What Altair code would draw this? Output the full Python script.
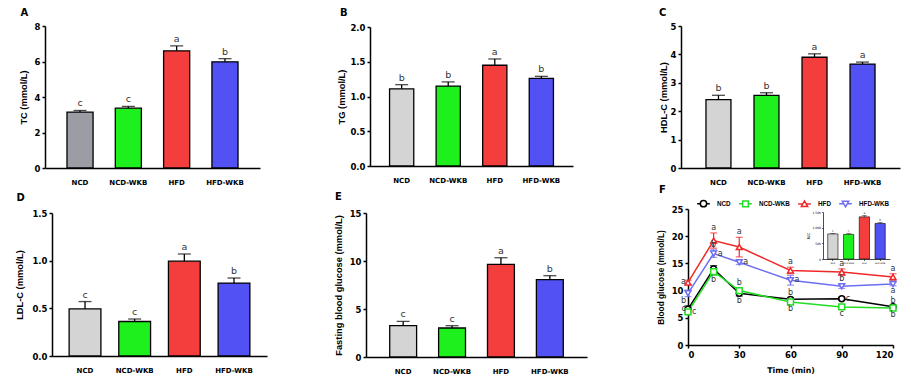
import altair as alt
import pandas as pd

groups = ["NCD", "NCD-WKB", "HFD", "HFD-WKB"]
bar_colors_a = ["#9c9ca4", "#1ef01e", "#f43d3d", "#5252f4"]
bar_colors = ["#d4d4d4", "#1ef01e", "#f43d3d", "#5252f4"]
panel_letters = ["A", "B", "C", "D", "E", "F"]

tc_mean = [3.15, 3.37, 6.60, 5.98]
tc_err = [0.09, 0.10, 0.28, 0.18]
tc_sig = ["c", "c", "a", "b"]

tg_mean = [1.11, 1.15, 1.45, 1.26]
tg_err = [0.06, 0.06, 0.09, 0.03]
tg_sig = ["b", "b", "a", "b"]

hdl_mean = [2.41, 2.56, 3.90, 3.66]
hdl_err = [0.15, 0.09, 0.12, 0.07]
hdl_sig = ["b", "b", "a", "a"]

ldl_mean = [0.494, 0.362, 0.995, 0.765]
ldl_err = [0.077, 0.026, 0.075, 0.053]
ldl_sig = ["c", "c", "a", "b"]

fbg_mean = [3.26, 3.02, 9.65, 8.05]
fbg_err = [0.45, 0.24, 0.69, 0.42]
fbg_sig = ["c", "c", "a", "b"]

# OGTT
times = [0, 15, 30, 60, 90, 120]
series = ["NCD", "NCD-WKB", "HFD", "HFD-WKB"]
line_colors = ["#000000", "#22dd22", "#f02828", "#6e6ef2"]
marker_shapes = ["circle", "square", "triangle-up", "triangle-down"]
bg_ncd = [6.6, 14.0, 9.5, 8.4, 8.5, 7.05]
bg_ncd_wkb = [6.1, 13.5, 10.0, 7.9, 7.0, 6.8]
bg_hfd = [11.5, 19.2, 18.0, 13.7, 13.4, 12.5]
bg_hfd_wkb = [9.5, 16.8, 15.2, 11.9, 10.8, 11.2]
err_ncd = [0.6, 0.6, 0.5, 0.3, 0.3, 0.2]
err_ncd_wkb = [0.5, 0.7, 0.4, 0.4, 0.3, 0.3]
err_hfd = [0.4, 1.4, 1.8, 0.6, 0.6, 0.6]
err_hfd_wkb = [0.6, 0.7, 0.4, 0.9, 0.4, 0.3]

letter_time = [0, 0, 0, 0, 15, 15, 15, 15, 30, 30, 30, 30,
               60, 60, 60, 60, 90, 90, 90, 90, 120, 120, 120, 120]
letter_text = ["a", "b", "c", "c", "a", "b", "a", "b", "a", "a", "b", "b",
               "a", "a", "b", "b", "a", "b", "c", "c", "a", "a", "b", "b"]
letter_series = ["HFD", "HFD-WKB", "NCD", "NCD-WKB",
                 "HFD", "HFD-WKB", "HFD-WKB", "NCD-WKB",
                 "HFD", "HFD-WKB", "NCD-WKB", "NCD",
                 "HFD", "HFD-WKB", "NCD", "NCD-WKB",
                 "HFD", "HFD-WKB", "NCD", "NCD-WKB",
                 "HFD", "HFD-WKB", "NCD", "NCD-WKB"]
letter_pos = ["left", "lowleft", "left", "right",
              "above", "above", "right", "below",
              "above", "right", "above", "below",
              "above", "right", "above", "below",
              "above", "above", "right", "below",
              "above", "below", "above", "below"]

auc_mean = [800, 785, 1345, 1135]
auc_err = [20, 25, 50, 30]
auc_sig = ["c", "c", "a", "b"]

LBL = "DejaVu Sans"
TTL = "Liberation Sans"

# ---- layout (pixels inside the chart) ----
W, H = 895, 370
M = 8  # page margin: reference pixel -> chart pixel


def bar_panel(letter, ytitle, mean, err, sig, ymax, ticks, fmt, box, colors,
              pin, pout, tpad, letter_xy):
    L, R, T, B = [v - M for v in box]
    df = pd.DataFrame({"group": groups, "mean": mean, "err": err, "sig": sig})
    df["top"] = df["mean"] + df["err"]
    xs = alt.Scale(range=[L, R], paddingInner=pin, paddingOuter=pout)
    ys = alt.Scale(domain=[0, ymax], range=[B, T], nice=False, padding=0)
    x = alt.X("group:N", sort=groups, title=None, scale=xs,
              axis=alt.Axis(orient="bottom", offset=-(H - B), labelAngle=0,
                            ticks=False, labelFontSize=7, labelPadding=10))
    xn = alt.X("group:N", sort=groups, title=None, scale=xs)
    base = alt.Chart(df)
    bars = base.mark_bar(stroke="black", strokeWidth=1.3).encode(
        x=x,
        y=alt.Y("mean:Q", scale=ys, title=ytitle,
                axis=alt.Axis(orient="left", offset=-L, values=ticks,
                              tickCount=len(ticks), format=fmt,
                              tickSize=3, labelPadding=2, titlePadding=tpad,
                              labelOverlap=False,
                              labelFontSize=8.5, titleFontSize=9.3)),
        fill=alt.Fill("group:N", scale=alt.Scale(domain=groups, range=colors),
                      legend=None),
    )
    yn = lambda f: alt.Y(f, scale=ys, title=ytitle)
    rule = base.mark_rule(color="black", strokeWidth=1.3).encode(
        x=xn, y=yn("mean:Q"), y2="top:Q")
    cap = base.mark_tick(color="black", thickness=1.3, size=13).encode(
        x=xn, y=yn("top:Q"))
    txt = base.mark_text(baseline="bottom", dy=-2, font=LBL, fontSize=9.5,
                         color="#333333").encode(x=xn, y=yn("top:Q"), text="sig:N")
    # panel letter, anchored at (first category, top of the axis)
    n = len(groups)
    step = (R - L) / (n - pin + 2 * pout)
    c0 = L + step * pout + step * (1 - pin) / 2
    lx, ly = letter_xy
    lab = alt.Chart(pd.DataFrame({"group": [groups[0]], "v": [ymax], "t": [letter]})) \
        .mark_text(font=LBL, fontSize=10, fontWeight="bold", align="left",
                   baseline="alphabetic", color="black",
                   dx=(lx - M) - c0, dy=(ly - M) - T) \
        .encode(x=xn, y=yn("v:Q"), text="t:N")
    return alt.layer(bars, rule, cap, txt, lab)


pA = bar_panel("A", "TC (mmol/L)", tc_mean, tc_err, tc_sig, 8, [0, 2, 4, 6, 8],
               "d", (45, 260, 26, 168), bar_colors_a, 0.46, 0.455, 6, (20.5, 16))
pB = bar_panel("B", "TG (mmol/L)", tg_mean, tg_err, tg_sig, 2,
               [0, 0.5, 1.0, 1.5, 2.0], ".1f", (370, 573, 27, 166), bar_colors,
               0.48, 0.42, 3, (340, 16))
pC = bar_panel("C", "HDL-C (mmol/L)", hdl_mean, hdl_err, hdl_sig, 5,
               [0, 1, 2, 3, 4, 5], "d", (681, 900, 26, 168), bar_colors,
               0.48, 0.52, 2, (659, 16))
pD = bar_panel("D", "LDL-C (mmol/L)", ldl_mean, ldl_err, ldl_sig, 1.5,
               [0, 0.5, 1.0, 1.5], ".1f", (52, 267, 213, 356), bar_colors,
               0.36, 0.345, 7, (16.5, 200.5))
pE = bar_panel("E", "Fasting blood glucose (mmol/L)", fbg_mean, fbg_err, fbg_sig,
               15, [0, 5, 10, 15], "d", (366, 587, 213, 357), bar_colors,
               0.45, 0.485, 6, (335, 200))

# ---- panel F ----
FL, FR, FT, FB = 688 - M, 893 - M, 209 - M, 345 - M
vals = [bg_ncd, bg_ncd_wkb, bg_hfd, bg_hfd_wkb]
errs = [err_ncd, err_ncd_wkb, err_hfd, err_hfd_wkb]
rows = []
for s, v, e in zip(series, vals, errs):
    for t, vv, ee in zip(times, v, e):
        rows.append({"series": s, "time": t, "value": vv, "err": ee,
                     "lo": vv - ee, "hi": vv + ee})
ogtt = pd.DataFrame(rows)

FX_T, FY_T = "Time (min)", "Blood glucose (mmol/L)"
xs = alt.Scale(domain=[0, 120], range=[FL, FR], nice=False, padding=0, zero=False)
ysF = alt.Scale(domain=[0, 25], range=[FB, FT], nice=False, padding=0)
X = alt.X("time:Q", scale=xs, title=FX_T,
          axis=alt.Axis(orient="bottom", offset=-(H - FB),
                        values=[0, 30, 60, 90, 120], tickCount=5, tickSize=3,
                        labelFontSize=8.5, titleFont=LBL, titleFontSize=7.8,
                        titlePadding=8, labelPadding=2, labelOverlap=False))
Y = alt.Y("value:Q", scale=ysF, title=FY_T,
          axis=alt.Axis(orient="left", offset=-FL,
                        values=[0, 5, 10, 15, 20, 25], tickCount=6, tickSize=3,
                        labelFontSize=8.5, titleFontSize=8.3, titlePadding=6,
                        labelPadding=2, labelOverlap=False))
XN = alt.X("time:Q", scale=xs, title=FX_T)
YN = lambda f: alt.Y(f, scale=ysF, title=FY_T)

layers = [alt.Chart(ogtt).mark_line(color="black", strokeWidth=1.5, opacity=0)
          .encode(x=X, y=Y)]
for s, c in zip(series, line_colors):
    b = alt.Chart(ogtt).transform_filter(alt.datum.series == s)
    layers.append(b.mark_line(color=c, strokeWidth=1.5).encode(x=XN, y=YN("value:Q")))
    layers.append(b.mark_rule(color=c, strokeWidth=1.2).encode(
        x=XN, y=YN("lo:Q"), y2="hi:Q"))
    layers.append(b.mark_tick(color=c, thickness=1.2, size=7,
                              orient="horizontal").encode(x=XN, y=YN("hi:Q")))
    layers.append(b.mark_tick(color=c, thickness=1.2, size=7,
                              orient="horizontal").encode(x=XN, y=YN("lo:Q")))
for s, c, shp in zip(series, line_colors, marker_shapes):
    b = alt.Chart(ogtt).transform_filter(alt.datum.series == s)
    layers.append(b.mark_point(shape=shp, filled=True, fill="white", stroke=c,
                               strokeWidth=1.5, size=34, opacity=1).encode(
        x=XN, y=YN("value:Q")))

# significance letters
ldf = pd.DataFrame({"time": letter_time, "text": letter_text,
                    "series": letter_series, "pos": letter_pos})
ldf = ldf.merge(ogtt, on=["series", "time"])
ldf["ly"] = ldf["value"]
ldf.loc[ldf["pos"] == "above", "ly"] = ldf["hi"]
ldf.loc[ldf["pos"].isin(["below", "lowleft"]), "ly"] = ldf["lo"]
styles = {"above": dict(baseline="bottom", dy=-1, align="center"),
          "below": dict(baseline="top", dy=1, align="center"),
          "left": dict(baseline="middle", dx=-2, align="right"),
          "lowleft": dict(baseline="top", dx=-2, dy=0, align="right"),
          "right": dict(baseline="middle", dx=4, align="left")}
for p, st in styles.items():
    layers.append(alt.Chart(ldf).transform_filter(alt.datum.pos == p)
                  .mark_text(font=LBL, fontSize=8, color="#333333", **st)
                  .encode(x=XN, y=YN("ly:Q"), text="text:N"))

# panel letter F anchored at (0, 25)
layers.append(
    alt.Chart(pd.DataFrame({"time": [0], "v": [25], "t": [panel_letters[5]]}))
    .mark_text(font=LBL, fontSize=10, fontWeight="bold", align="left",
               baseline="alphabetic", color="black",
               dx=(659 - M) - FL, dy=(193 - M) - FT)
    .encode(x=XN, y=YN("v:Q"), text="t:N"))

# legend (entries come from the scale domain)
leg_paths = [
    "M-1,0H-0.5M0.5,0H1M0.5,0A0.5,0.5 0 1,1 -0.5,0A0.5,0.5 0 1,1 0.5,0Z",
    "M-1,0H-0.45M0.45,0H1M-0.45,-0.45H0.45V0.45H-0.45Z",
    "M-1,0H-0.29M0.29,0H1M0,-0.5L0.5,0.37H-0.5Z",
    "M-1,0H-0.29M0.29,0H1M0,0.5L0.5,-0.37H-0.5Z",
]
leg = alt.Legend(orient="none", legendX=696 - M, legendY=196 - M,
                 direction="horizontal", columns=4,
                 title=None, padding=0,
                 symbolSize=160, symbolStrokeWidth=1.5,
                 symbolFillColor="white", symbolOpacity=1,
                 labelFont=TTL, labelFontWeight="bold",
                 labelFontSize=6.3, labelOffset=6,
                 columnPadding=5, labelColor="black")
layers.append(
    alt.Chart(ogtt).mark_point(filled=True, fill="white", strokeWidth=1.5,
                               opacity=0).encode(
        x=XN, y=YN("value:Q"),
        stroke=alt.Stroke("series:N",
                          scale=alt.Scale(domain=series, range=line_colors),
                          legend=leg),
        shape=alt.Shape("series:N",
                        scale=alt.Scale(domain=series, range=leg_paths),
                        legend=leg),
    )
)
pF = alt.layer(*layers)

# inset AUC
IL, IR, IT, IB = 823 - M, 890 - M, 212 - M, 259 - M
adf = pd.DataFrame({"group": groups, "mean": auc_mean, "err": auc_err, "sig": auc_sig})
adf["top"] = adf["mean"] + adf["err"]
ixs = alt.Scale(range=[IL, IR], paddingInner=0.35, paddingOuter=0.3)
ix = alt.X("group:N", sort=groups, title=None, scale=ixs,
           axis=alt.Axis(orient="bottom", offset=-(H - IB), labelAngle=0,
                         labelFontSize=2.2, labelFontWeight="normal", tickSize=1.5,
                         tickWidth=0.6, domainWidth=0.7, labelPadding=1,
                         labelOverlap=False))
ixn = alt.X("group:N", sort=groups, title=None, scale=ixs)
iys = alt.Scale(domain=[0, 1500], range=[IB, IT], nice=False, padding=0)
iy = alt.Y("mean:Q", scale=iys, title="AUC",
           axis=alt.Axis(orient="left", offset=-IL, values=[0, 500, 1000, 1500],
                         tickCount=4,
                         labelFontSize=3, labelFontWeight="normal", tickSize=1.5,
                         tickWidth=0.6, domainWidth=0.7, labelPadding=1,
                         labelOverlap=False,
                         titleFontSize=3, titleFontWeight="normal", titlePadding=2))
iyn = lambda f: alt.Y(f, scale=iys, title="AUC")
ib = alt.Chart(adf)
inset = alt.layer(
    ib.mark_bar(stroke="black", strokeWidth=0.6).encode(
        x=ix, y=iy,
        fill=alt.Fill("group:N", scale=alt.Scale(domain=groups, range=bar_colors), legend=None)),
    ib.mark_rule(color="black", strokeWidth=0.6).encode(
        x=ixn, y=iyn("mean:Q"), y2="top:Q"),
    ib.mark_tick(color="black", thickness=0.6, size=5).encode(
        x=ixn, y=iyn("top:Q")),
    ib.mark_text(baseline="bottom", dy=-0.5, fontSize=3, font=LBL, color="#333333").encode(
        x=ixn, y=iyn("top:Q"), text="sig:N"),
)

chart = alt.layer(pA, pB, pC, pD, pE, pF, inset).resolve_scale(
    x="independent", y="independent", fill="independent"
).resolve_axis(x="independent", y="independent").properties(
    width=W, height=H, padding=0, autosize=alt.AutoSizeParams(type="none")
).configure_view(stroke=None).configure_axis(
    domainColor="black", domainWidth=1.5, tickColor="black", tickWidth=1.5,
    labelColor="black", titleColor="black", grid=False, labelFont=LBL,
    labelFontWeight="bold", titleFont=TTL, titleFontWeight="bold"
)

chart.save("out.html", embed_options={"renderer": "svg", "actions": False})
